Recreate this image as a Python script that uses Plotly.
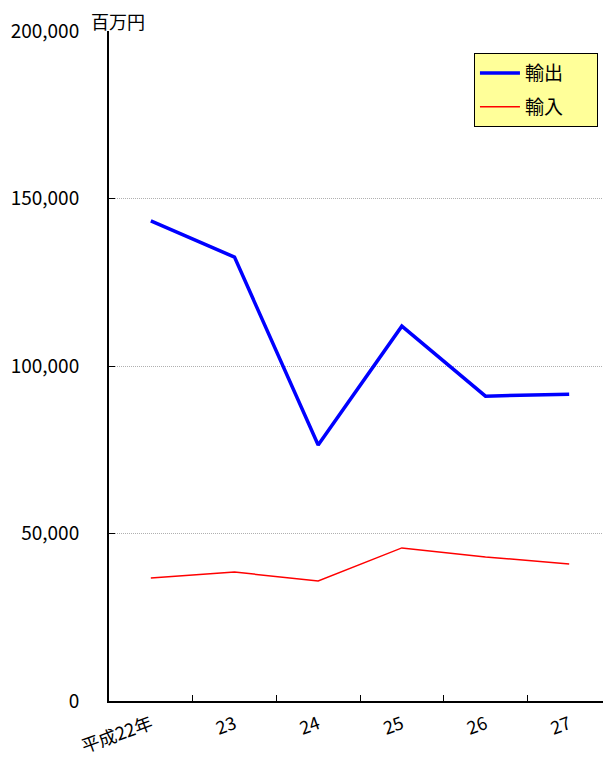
import plotly.graph_objects as go

years = ["平成22年", "23", "24", "25", "26", "27"]
exports = [143300, 132500, 76400, 111900, 91000, 91600]
imports = [36700, 38500, 35800, 45700, 43000, 40900]

FONT = "Noto Sans CJK JP"

fig = go.Figure()
fig.add_trace(go.Scatter(x=years, y=exports, mode="lines", name="輸出\u2002\u2002\u2002", legendgroup="a",
                         line=dict(color="#0000FF", width=3.5)))
fig.add_trace(go.Scatter(x=years, y=imports, mode="lines", name="輸入\u2002\u2002\u2002", legendgroup="b",
                         line=dict(color="#FF0000", width=1.5)))

fig.update_xaxes(type="category", tickson="boundaries", ticks="inside", ticklen=6,
                 tickcolor="black", tickwidth=1, showline=True, linecolor="black",
                 linewidth=2, showgrid=False, tickangle=-20, range=[-0.5, 5.5],
                 automargin=False, ticklabelstandoff=4,
                 tickfont=dict(size=18, color="black"))
fig.update_yaxes(range=[0, 200000], dtick=50000, tickformat=",", ticks="inside",
                 ticklen=6, tickcolor="black", showline=True, linecolor="black",
                 linewidth=2, showgrid=True, gridcolor="#B0B0B0", griddash="1px,1px",
                 gridwidth=1, zeroline=False, ticklabelstandoff=24, automargin=False,
                 tickfont=dict(size=19, color="black"))

fig.add_annotation(text="百万円", xref="paper", yref="paper", x=-0.04, y=1.0,
                   xanchor="left", yanchor="bottom", yshift=-5, showarrow=False,
                   font=dict(size=18, color="black", family=FONT))

fig.update_layout(
    width=611, height=765,
    margin=dict(l=101, r=8, t=23, b=72),
    paper_bgcolor="white", plot_bgcolor="white",
    font=dict(family=FONT, color="black"),
    showlegend=True,
    legend=dict(x=0.727, y=0.967, xanchor="left", yanchor="top",
                bgcolor="#FFFF99", bordercolor="black", borderwidth=1,
                font=dict(size=19, color="black"), tracegroupgap=6,
                itemwidth=40),
)

fig.write_html("out.html")
